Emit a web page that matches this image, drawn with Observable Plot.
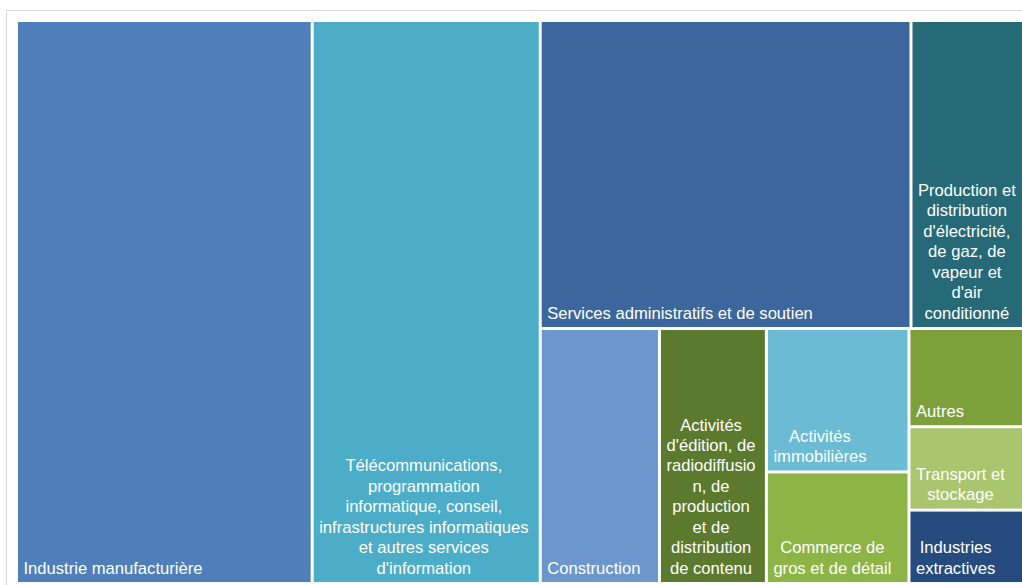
<!DOCTYPE html>
<html><head><meta charset="utf-8">
<script src="https://cdn.jsdelivr.net/npm/d3@7"></script>
<script src="https://cdn.jsdelivr.net/npm/@observablehq/plot@0.6"></script>
<style>
body{margin:0;background:#fff;}
#wrap{position:relative;width:1022px;height:585px;overflow:hidden;}
#cadre{position:absolute;left:6px;top:10px;width:1100px;height:700px;border:1px solid #d9d9d9;box-sizing:border-box;}
#chart{position:absolute;left:0;top:0;}
</style></head><body>
<div id="wrap"><div id="cadre"></div><div id="chart"></div></div>
<script>
const secteurs = [
  "Industrie manufacturière",
  "Télécommunications, programmation informatique, conseil, infrastructures informatiques et autres services d'information",
  "Services administratifs et de soutien",
  "Production et distribution d'électricité, de gaz, de vapeur et d'air conditionné",
  "Construction",
  "Activités d'édition, de radiodiffusion, de production et de distribution de contenu",
  "Activités immobilières",
  "Commerce de gros et de détail",
  "Autres",
  "Transport et stockage",
  "Industries extractives"
];
const etiquettes = [
  "Industrie manufacturière",
  "Télécommunications,\nprogrammation\ninformatique, conseil,\ninfrastructures informatiques\net autres services\nd'information",
  "Services administratifs et de soutien",
  "Production et\ndistribution\nd'électricité,\nde gaz, de\nvapeur et\nd'air\nconditionné",
  "Construction",
  "Activités\nd'édition, de\nradiodiffusio\nn, de\nproduction\net de\ndistribution\nde contenu",
  "Activités\nimmobilières",
  "Commerce de\ngros et de détail",
  "Autres",
  "Transport et\nstockage",
  "Industries\nextractives"
];
const valeurs = [29.3, 22.6, 20.1, 6.1, 5.35, 4.8, 3.6, 2.8, 1.98, 1.68, 1.48];
const groupes = ["", "", "reste/haut", "reste/haut", "reste/bas", "reste/bas",
  "reste/bas/g1", "reste/bas/g1", "reste/bas/g2", "reste/bas/g2", "reste/bas/g2"];
const couleurs = ["#4e7fba", "#4badc8", "#3b679c", "#266a77", "#6b97cc", "#5b7a2d",
  "#6abbd3", "#8db545", "#7da03b", "#a9c56e", "#264b7e"];

const W = 1004, H = 560;
const racine = {name: "racine", children: []};
secteurs.forEach((s, i) => {
  let parent = racine;
  if (groupes[i]) for (const g of groupes[i].split("/")) {
    let c = parent.children.find(d => d.name === g && d.children);
    if (!c) { c = {name: g, children: []}; parent.children.push(c); }
    parent = c;
  }
  parent.children.push({name: s, index: i, value: valeurs[i]});
});
const h = d3.hierarchy(racine).sum(d => d.value ?? 0);
d3.treemap().tile(d3.treemapSliceDice).size([W, H]).paddingInner(3)(h);

const taille = 16.6;
const ctx = document.createElement("canvas").getContext("2d");
ctx.font = `${taille}px 'Liberation Sans'`;
const feuilles = h.leaves().map(n => {
  const i = n.data.index;
  const lignes = etiquettes[i].split("\n");
  const largeur = d3.max(lignes, l => ctx.measureText(l).width);
  return {
    secteur: secteurs[i], etiquette: etiquettes[i], couleur: couleurs[i],
    x0: n.x0, x1: n.x1, y0: n.y0, y1: n.y1,
    tx: n.x0 + 5 + largeur / 2, ty: n.y1
  };
});

const chart = Plot.plot({
  width: 1022, height: 585,
  marginLeft: 18, marginTop: 22, marginRight: 0, marginBottom: 3,
  x: {domain: [0, W], axis: null},
  y: {domain: [0, H], reverse: true, axis: null},
  style: {background: "transparent", fontFamily: "'Liberation Sans', Arial, sans-serif"},
  marks: [
    Plot.rect(feuilles, {x1: "x0", x2: "x1", y1: "y0", y2: "y1", fill: "couleur", title: "secteur"}),
    Plot.text(feuilles, {x: "tx", y: "ty", text: "etiquette", fill: "white", fontSize: taille,
      lineHeight: 1.23, textAnchor: "middle", lineAnchor: "bottom", dy: -9})
  ]
});
document.getElementById("chart").appendChild(chart);
</script>
</body></html>
